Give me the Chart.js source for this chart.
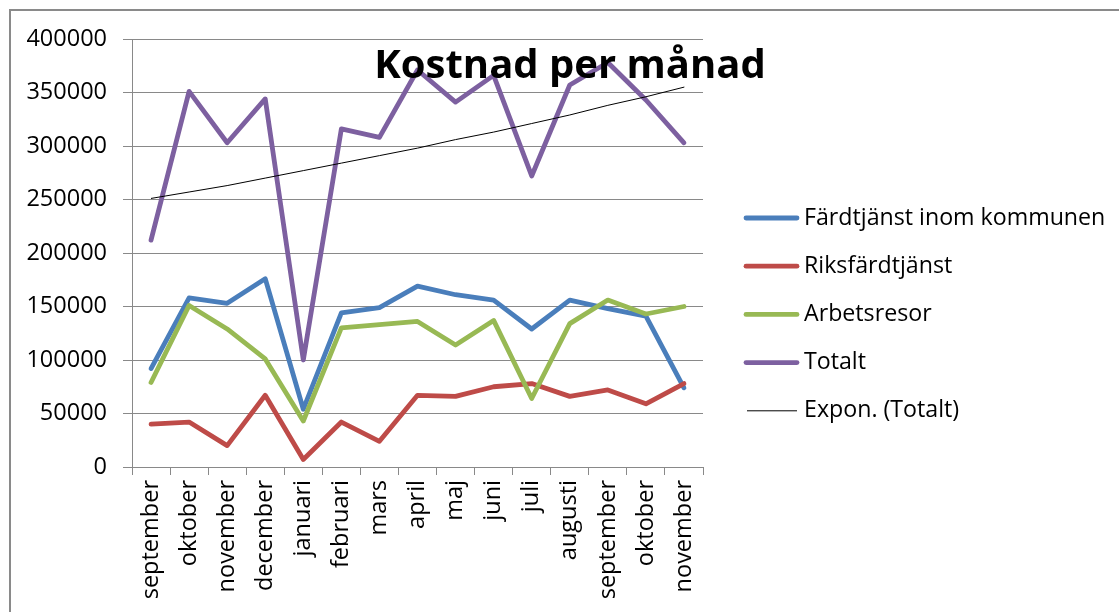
<!DOCTYPE html>
<html>
<head>
<meta charset="utf-8">
<title>Kostnad per månad</title>
<style>
    html, body { margin: 0; padding: 0; background: #fff; overflow: hidden; }
    #frame { position: absolute; left: 9px; top: 9px; width: 1200px; height: 700px;
             border-left: 2px solid #8a8a8a; border-top: 2px solid #8a8a8a; }
    #wrap { position: absolute; left: 0; top: 0; width: 1119px; height: 612px; }
</style>
</head>
<body>

<div id="frame"></div>
<div id="wrap">
    <canvas id="myChart"></canvas>
</div>

<script src="https://cdn.jsdelivr.net/npm/chart.js"></script>

<script>
    const months = ["september", "oktober", "november", "december", "januari", "februari", "mars",
                    "april", "maj", "juni", "juli", "augusti", "september", "oktober", "november"];

    const fardtjanst = [92000, 158000, 153000, 176000, 54000, 144000, 149000, 169000, 161000, 156000, 129000, 156000, 148000, 141000, 74000];
    const riksfardtjanst = [40000, 42000, 20000, 67000, 7000, 42000, 24000, 67000, 66000, 75000, 78000, 66000, 72000, 59000, 78000];
    const arbetsresor = [79000, 151000, 129000, 101000, 43000, 130000, 133000, 136000, 114000, 137000, 64000, 134000, 156000, 143000, 150000];
    const totalt = [212000, 351000, 303000, 344000, 100000, 316000, 308000, 371000, 341000, 366000, 272000, 357000, 378000, 343000, 303000];
    // trendline
    const exponTotalt = [251000, 257000, 263000, 270000, 277000, 284000, 291000, 298000, 306000, 313000, 321000, 329000, 338000, 346000, 355000];

    const yTicks = [0, 50000, 100000, 150000, 200000, 250000, 300000, 350000, 400000];

    const gridColor = "#898989";
    const font = { family: "'Open Sans'", size: 23.5 };

    // title sits on top of the plot, like the Excel overlay title
    const titlePlugin = {
        id: "overlayTitle",
        afterDraw(chart) {
            const ctx = chart.ctx;
            ctx.save();
            ctx.font = "bold 40px 'Open Sans'";
            ctx.fillStyle = "#000";
            ctx.textAlign = "center";
            ctx.textBaseline = "alphabetic";
            ctx.fillText("Kostnad per månad", 570, 78);
            ctx.restore();
        }
    };

    const legendPlugin = {
        id: "sideLegend",
        afterDraw(chart) {
            const ctx = chart.ctx;
            const x0 = chart.chartArea.right + 41;
            ctx.save();
            ctx.font = "23.2px 'Open Sans'";
            ctx.textBaseline = "middle";
            ctx.textAlign = "left";
            chart.data.datasets.forEach((ds, i) => {
                const y = 218 + i * 48.2;
                ctx.strokeStyle = ds.borderColor;
                ctx.lineWidth = ds.borderWidth;
                ctx.lineCap = ds.borderWidth > 2 ? "round" : "butt";
                ctx.beginPath();
                ctx.moveTo(x0 + (ds.borderWidth > 2 ? 2 : 3), y);
                ctx.lineTo(x0 + 53, y);
                ctx.stroke();
                ctx.fillStyle = "#000";
                ctx.fillText(ds.label, x0 + 60, y);
            });
            ctx.restore();
        }
    };

    function line(label, data, color, width, order) {
        return {
            label: label,
            data: data,
            borderColor: color,
            backgroundColor: color,
            borderWidth: width,
            pointRadius: 0,
            tension: 0,
            borderJoinStyle: "round",
            borderCapStyle: "round",
            order: order
        };
    }

    const ctx = document.getElementById("myChart");

    new Chart(ctx, {
        type: "line",
        data: {
            labels: months,
            datasets: [
                line("Färdtjänst inom kommunen", fardtjanst, "#4a7ebb", 4.8, 4),
                line("Riksfärdtjänst", riksfardtjanst, "#be4b48", 4.8, 3),
                line("Arbetsresor", arbetsresor, "#98b954", 4.8, 2),
                line("Totalt", totalt, "#7d60a0", 4.8, 1),
                line("Expon. (Totalt)", exponTotalt, "#000000", 1, 0)
            ]
        },
        options: {
            responsive: true,
            maintainAspectRatio: false,
            animation: false,
            layout: {
                padding: { top: 39, right: 416, bottom: 0, left: 0 }
            },
            scales: {
                x: {
                    offset: true,
                    grid: {
                        offset: true,
                        drawOnChartArea: false,
                        drawTicks: true,
                        tickLength: 8,
                        color: gridColor
                    },
                    border: { color: gridColor },
                    ticks: {
                        autoSkip: false,
                        minRotation: 90,
                        maxRotation: 90,
                        padding: 5,
                        color: "#000",
                        font: font
                    },
                    afterFit(scale) { scale.height = 145; }
                },
                y: {
                    min: 0,
                    max: 400000,
                    afterBuildTicks(scale) {
                        scale.ticks = yTicks.map(v => ({ value: v }));
                    },
                    grid: {
                        color: gridColor,
                        tickLength: 9
                    },
                    border: { color: gridColor },
                    ticks: {
                        padding: 16,
                        color: "#000",
                        font: font,
                        callback: v => String(v)
                    },
                    afterFit(scale) { scale.width = 132; }
                }
            },
            plugins: {
                legend: { display: false },
                tooltip: { enabled: false }
            }
        },
        plugins: [titlePlugin, legendPlugin]
    });
</script>

</body>
</html>
